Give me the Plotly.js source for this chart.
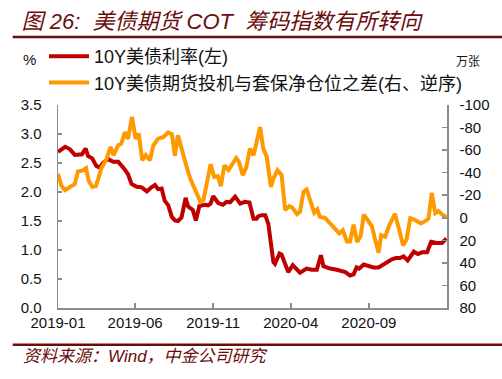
<!DOCTYPE html>
<html>
<head>
<meta charset="utf-8">
<script src="https://cdn.plot.ly/plotly-3.0.1.min.js"></script>
<style>
html,body{margin:0;padding:0;background:#fff;}
#chart{width:502px;height:379px;}
</style>
</head>
<body>
<div id="chart"></div>
<script>
// 10Y US Treasury yield (%, left axis)
var yieldDates = ['2019-01-01','2019-01-15','2019-01-24','2019-02-03','2019-02-17','2019-02-24','2019-03-01','2019-03-09','2019-03-17','2019-03-24','2019-03-30','2019-04-09','2019-04-19','2019-04-29','2019-05-09','2019-05-18','2019-05-25','2019-06-04','2019-06-14','2019-06-24','2019-07-03','2019-07-10','2019-07-16','2019-07-23','2019-07-29','2019-08-05','2019-08-12','2019-08-18','2019-08-24','2019-08-31','2019-09-08','2019-09-13','2019-09-22','2019-09-28','2019-10-05','2019-10-16','2019-10-22','2019-10-27','2019-11-01','2019-11-11','2019-11-20','2019-11-27','2019-12-04','2019-12-14','2019-12-24','2020-01-02','2020-01-11','2020-01-19','2020-01-25','2020-01-28','2020-02-04','2020-02-11','2020-02-17','2020-02-27','2020-03-01','2020-03-10','2020-03-14','2020-03-27','2020-04-05','2020-04-19','2020-05-02','2020-05-12','2020-05-22','2020-05-30','2020-06-04','2020-06-17','2020-06-30','2020-07-07','2020-07-17','2020-07-26','2020-08-02','2020-08-08','2020-08-13','2020-08-22','2020-08-31','2020-09-10','2020-09-20','2020-09-26','2020-10-05','2020-10-16','2020-10-24','2020-11-01','2020-11-08','2020-11-16','2020-11-28','2020-12-06','2020-12-14','2020-12-24','2021-01-01','2021-01-12','2021-01-22','2021-01-31'];
var yieldValues = [2.69,2.78,2.74,2.64,2.65,2.75,2.62,2.58,2.45,2.42,2.50,2.57,2.52,2.52,2.42,2.31,2.14,2.09,2.08,2.01,2.08,2.12,2.05,2.06,1.85,1.77,1.57,1.51,1.50,1.56,1.90,1.75,1.69,1.51,1.76,1.78,1.77,1.80,1.93,1.81,1.78,1.83,1.82,1.92,1.80,1.83,1.82,1.54,1.54,1.58,1.60,1.60,1.45,0.79,0.76,0.94,0.92,0.62,0.74,0.61,0.68,0.66,0.66,0.91,0.72,0.68,0.66,0.65,0.62,0.56,0.58,0.70,0.68,0.75,0.72,0.70,0.70,0.73,0.79,0.84,0.86,0.86,0.89,0.82,0.97,0.93,0.96,0.96,1.14,1.12,1.12,1.20];

// Net position difference (10k contracts, right axis, reversed)
var cotDates = ['2019-01-01','2019-01-08','2019-01-15','2019-01-27','2019-02-03','2019-02-09','2019-02-19','2019-02-25','2019-03-02','2019-03-09','2019-03-16','2019-03-21','2019-03-27','2019-04-06','2019-04-14','2019-04-20','2019-04-29','2019-05-05','2019-05-12','2019-05-18','2019-05-26','2019-06-02','2019-06-08','2019-06-15','2019-06-22','2019-06-30','2019-07-07','2019-07-16','2019-07-26','2019-08-05','2019-08-12','2019-08-18','2019-08-24','2019-08-31','2019-09-05','2019-09-11','2019-09-17','2019-09-30','2019-10-07','2019-10-13','2019-10-19','2019-10-27','2019-11-03','2019-11-10','2019-11-16','2019-11-23','2019-12-01','2019-12-10','2019-12-16','2019-12-21','2019-12-29','2020-01-05','2020-01-12','2020-01-19','2020-01-25','2020-02-01','2020-02-07','2020-02-14','2020-02-22','2020-02-27','2020-03-06','2020-03-14','2020-03-21','2020-03-29','2020-04-04','2020-04-13','2020-04-19','2020-04-26','2020-05-02','2020-05-09','2020-05-17','2020-05-23','2020-05-28','2020-06-07','2020-06-17','2020-06-27','2020-07-05','2020-07-12','2020-07-20','2020-07-26','2020-08-02','2020-08-09','2020-08-16','2020-08-22','2020-08-31','2020-09-07','2020-09-13','2020-09-20','2020-09-25','2020-10-03','2020-10-11','2020-10-22','2020-10-30','2020-11-07','2020-11-14','2020-11-21','2020-12-01','2020-12-12','2020-12-23','2020-12-27','2021-01-02','2021-01-09','2021-01-15','2021-01-24','2021-01-31'];
var cotValues = [-39,-28,-24.5,-28,-30,-41,-42,-44,-33,-27.4,-28,-34.8,-44,-52,-62.8,-55.5,-64.3,-65.8,-76,-70,-89.4,-70,-74.7,-51,-55.5,-51,-64.3,-70.2,-71.5,-75.6,-74,-55,-73.2,-61.4,-52.5,-43.7,-34.8,-21,-14.1,-16,-28.9,-47.5,-36.2,-37,-28,-46.6,-42.2,-49.5,-53,-50,-37.8,-45,-61.4,-55.5,-68.7,-80.5,-61.4,-54,-27.4,-34.8,-42.2,-37.8,-6.8,-10.3,-9,-3.2,-5.3,-23,-25.1,-15.6,-4.4,-7.4,-0.8,0.1,5,8.9,13.9,11,21,21,6,21.5,16,-2.8,3.6,7.5,19,31,15.4,16.9,6.5,-3.5,10,24.5,19,0.4,2.1,5,2.1,0.6,-22,-4.2,-6,-2.3,-0.8];

var seriesNames = ['10Y美债利率(左)', '10Y美债期货投机与套保净仓位之差(右、逆序)'];
var xTickVals = ['2019-01-01','2019-06-01','2019-11-01','2020-04-01','2020-09-01'];
var xTickText = ['2019-01','2019-06','2019-11','2020-04','2020-09'];
var leftTickVals = [0,0.5,1,1.5,2,2.5,3,3.5];
var leftTickText = ['0.0','0.5','1.0','1.5','2.0','2.5','3.0','3.5'];
var rightTickVals = [-100,-80,-60,-40,-20,0,20,40,60,80];
var rightTickText = ['-100','-80','-60','-40','-20','0','20','40','60','80'];

var FONT = 'Liberation Sans, Arial, Noto Sans CJK SC, sans-serif';
var MAROON = '#6B0C0C';

var traces = [
  {x: yieldDates, y: yieldValues, name: seriesNames[0], type: 'scatter', mode: 'lines',
   line: {color: '#C00000', width: 4}, yaxis: 'y'},
  {x: cotDates, y: cotValues, name: seriesNames[1], type: 'scatter', mode: 'lines',
   line: {color: '#FF9900', width: 4}, yaxis: 'y2'}
];

var axisColor = '#8c8c8c';
var layout = {
  width: 502, height: 379,
  margin: {l: 58, r: 55, t: 105, b: 71, pad: 0},
  paper_bgcolor: '#fff', plot_bgcolor: '#fff',
  font: {family: FONT, color: '#111', size: 15},
  title: {text: '图 26:  美债期货 COT  筹码指数有所转向', xref: 'container', yref: 'container',
          x: 0.043, xanchor: 'left', y: 0.945, yanchor: 'middle',
          font: {family: FONT, size: 22, color: MAROON, style: 'italic', weight: 'normal'}},
  showlegend: true,
  legend: {x: -0.036, xanchor: 'left', y: 1.33, yanchor: 'top', bgcolor: 'rgba(0,0,0,0)',
           font: {family: FONT, size: 18, color: '#111'}, itemwidth: 40, tracegroupgap: 0,
           traceorder: 'normal'},
  xaxis: {type: 'date', range: ['2019-01-01','2021-02-01'], tickvals: xTickVals, ticktext: xTickText,
          showgrid: false, zeroline: false, showline: true, linecolor: axisColor, linewidth: 1.5,
          ticks: 'inside', ticklen: 5, tickcolor: axisColor, tickwidth: 1.5,
          tickfont: {size: 15, color: '#111'}, fixedrange: true},
  yaxis: {range: [0, 3.5], tickvals: leftTickVals, ticktext: leftTickText,
          showgrid: false, zeroline: false, showline: true, linecolor: axisColor, linewidth: 1.5,
          ticks: 'inside', ticklen: 4, tickcolor: axisColor, tickwidth: 1.5, ticklabelstandoff: 12,
          tickfont: {size: 15, color: '#111'}},
  yaxis2: {range: [80, -100], overlaying: 'y', side: 'right', tickvals: rightTickVals, ticktext: rightTickText,
           showgrid: false, zeroline: false, showline: true, linecolor: axisColor, linewidth: 1.5,
           ticks: 'inside', ticklen: 5, tickcolor: axisColor, tickwidth: 1.5, ticklabelstandoff: 8,
           tickfont: {size: 15, color: '#111'}},
  shapes: [
    {type: 'line', xref: 'paper', yref: 'paper', x0: -0.1165, x1: 1.15, y0: 1.335, y1: 1.335,
     line: {color: MAROON, width: 2.5}},
    {type: 'line', xref: 'paper', yref: 'paper', x0: -0.1165, x1: 1.15, y0: -0.181, y1: -0.181,
     line: {color: MAROON, width: 2.5}}
  ],
  annotations: [
    {text: '%', xref: 'paper', yref: 'paper', x: -0.073, y: 1.222, xanchor: 'center', yanchor: 'middle',
     showarrow: false, font: {size: 15, color: '#111'}},
    {text: '万张', xref: 'paper', yref: 'paper', x: 1.054, y: 1.212, xanchor: 'center', yanchor: 'middle',
     showarrow: false, font: {size: 12, color: '#111'}},
    {text: '资料来源：Wind，中金公司研究', xref: 'paper', yref: 'paper', x: -0.095, y: -0.2365,
     xanchor: 'left', yanchor: 'middle', showarrow: false,
     font: {family: FONT, size: 17, color: MAROON, style: 'italic'}}
  ]
};

Plotly.newPlot('chart', traces, layout, {displayModeBar: false, staticPlot: true});
</script>
</body>
</html>
